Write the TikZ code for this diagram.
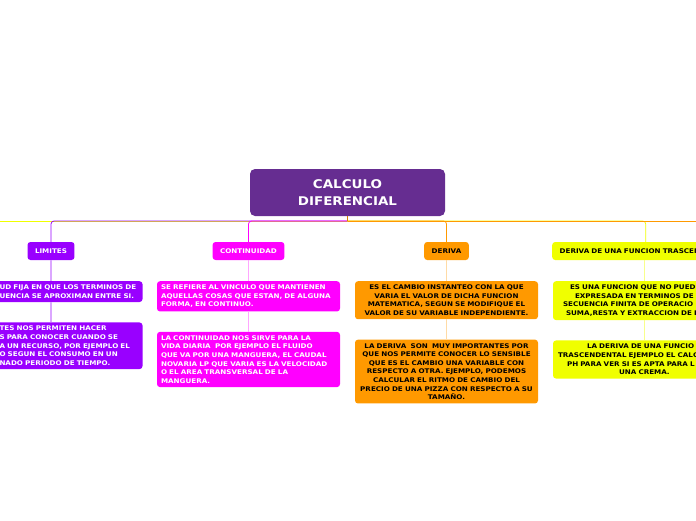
\documentclass[tikz,border=0pt]{standalone}
\usepackage{fontspec}
\setmainfont{DejaVu Sans}[FakeStretch=1.12]
\usetikzlibrary{positioning}

\definecolor{calcpurple}{HTML}{662D91}
\definecolor{limviolet}{HTML}{9900FF}
\definecolor{contmagenta}{HTML}{FF00FF}
\definecolor{derorange}{HTML}{FF9900}
\definecolor{trasyellow}{HTML}{F0FF00}

\tikzset{
  maintopic/.style={rounded corners=5pt, fill=calcpurple, text=white, align=center,
    minimum width=195pt, minimum height=47pt, font=\fontsize{12}{17.4}\selectfont\bfseries},
  topic/.style={rounded corners=3pt, inner xsep=7.5pt, inner ysep=0pt, minimum height=18pt,
    font=\fontsize{6.4}{8}\selectfont\bfseries},
  note/.style={rounded corners=3pt, text width=175pt, inner xsep=4pt, inner ysep=3.7pt,
    anchor=north, font=\fontsize{6.4}{8.6}\selectfont\bfseries},
  branch/.style={line width=0.8pt, rounded corners=3pt},
  link/.style={line width=1.2pt},
}

\begin{document}
\begin{tikzpicture}[x=1pt, y=-1pt, node distance=20pt]
    \useasboundingbox (0,0) rectangle (696,520);
    \clip (0,0) rectangle (696,520);

    % central topic
    \node[maintopic] (calc) at (347.5,192.5) {CALCULO\\DIFERENCIAL};
    \coordinate (hub) at (347.5,221);
    \coordinate (leftend) at (-5,221);
    \coordinate (rightend) at (701,221);

    % main branches
    \node[topic, fill=limviolet, text=white] (lim) at (51,251) {LIMITES};
    \node[topic, fill=contmagenta, text=white] (cont) at (248.5,251) {CONTINUIDAD};
    \node[topic, fill=derorange] (der) at (446.5,251) {DERIVA};
    \node[topic, fill=trasyellow, anchor=west, text width=172pt, align=left] (tras) at (552,251)
        {DERIVA DE UNA FUNCION TRASCEN};

    % LIMITES
    \node[note, fill=limviolet, text=white, align=left] (lim1) at (51,281)
        {\hspace*{36pt}UD FIJA EN QUE LOS TERMINOS DE\\
         \hspace*{36pt}UENCIA SE APROXIMAN ENTRE SI.};
    \node[note, fill=limviolet, text=white, align=left, below=of lim1] (lim2)
        {\hspace*{36pt}TES NOS PERMITEN HACER\\
         \hspace*{36pt}S PARA CONOCER CUANDO SE\\
         \hspace*{36pt}A UN RECURSO, POR EJEMPLO EL\\
         \hspace*{36pt}O SEGUN EL CONSUMO EN UN\\
         \hspace*{36pt}NADO PERIODO DE TIEMPO.};

    % CONTINUIDAD
    \node[note, fill=contmagenta, text=white, align=left] (cont1) at (248.5,281)
        {SE REFIERE AL VINCULO QUE MANTIENEN\\
         AQUELLAS COSAS QUE ESTAN, DE ALGUNA\\
         FORMA, EN CONTINUO.};
    \node[note, fill=contmagenta, text=white, align=left, below=of cont1] (cont2)
        {LA CONTINUIDAD NOS SIRVE PARA LA\\
         VIDA DIARIA\ \ POR EJEMPLO EL FLUIDO\\
         QUE VA POR UNA MANGUERA, EL CAUDAL\\
         NOVARIA LP QUE VARIA ES LA VELOCIDAD\\
         O EL AREA TRANSVERSAL DE LA\\
         MANGUERA.};

    % DERIVA
    \node[note, fill=derorange, align=center] (der1) at (446.5,281)
        {ES EL CAMBIO INSTANTEO CON LA QUE\\
         VARIA EL VALOR DE DICHA FUNCION\\
         MATEMATICA, SEGUN SE MODIFIQUE EL\\
         VALOR DE SU VARIABLE INDEPENDIENTE.};
    \node[note, fill=derorange, align=center, below=of der1] (der2)
        {LA DERIVA\ \ SON\ \ MUY IMPORTANTES POR\\
         QUE NOS PERMITE CONOCER LO SENSIBLE\\
         QUE ES EL CAMBIO UNA VARIABLE CON\\
         RESPECTO A OTRA. EJEMPLO, PODEMOS\\
         CALCULAR EL RITMO DE CAMBIO DEL\\
         PRECIO DE UNA PIZZA CON RESPECTO A SU\\
         TAMAÑO.};

    % DERIVA DE UNA FUNCION TRASCENDENTAL
    \node[note, fill=trasyellow, align=left] (tras1) at (644.5,281)
        {\hspace*{13pt}ES UNA FUNCION QUE NO PUED\\
         \hspace*{18pt}EXPRESADA EN TERMINOS DE U\\
         \hspace*{6pt}SECUENCIA FINITA DE OPERACIO\\
         \hspace*{9pt}SUMA,RESTA Y EXTRACCION DE R};
    \node[note, fill=trasyellow, align=left, below=of tras1] (tras2)
        {\hspace*{30pt}LA DERIVA DE UNA FUNCIO\\
         \hspace*{1pt}TRASCENDENTAL EJEMPLO EL CALC\\
         \hspace*{10pt}PH PARA VER SI ES APTA PARA L\\
         \hspace*{62pt}UNA CREMA.};

    % connectors from the hub
    \draw[branch, trasyellow] (hub) -- (leftend);
    \draw[branch, limviolet] (hub) -| (lim.north);
    \draw[branch, contmagenta] (hub) -| (cont.north);
    \draw[branch, trasyellow] (hub) -| (tras.north);
    \draw[branch, derorange] (hub) -| (der.north);
    \draw[branch, derorange] (hub) -- (rightend);
    \draw[line width=1pt, derorange!85!black] (calc.south) -- (hub);

    % connectors inside each branch
    \draw[link, limviolet!35] (lim) -- (lim1);
    \draw[link, limviolet!35] (lim1) -- (lim2);
    \draw[link, contmagenta!35] (cont) -- (cont1);
    \draw[link, contmagenta!35] (cont1) -- (cont2);
    \draw[link, derorange!35] (der) -- (der1);
    \draw[link, derorange!35] (der1) -- (der2);
    \draw[link, trasyellow!45] (tras.south -| tras1.north) -- (tras1);
    \draw[link, trasyellow!45] (tras1) -- (tras2);
\end{tikzpicture}
\end{document}
